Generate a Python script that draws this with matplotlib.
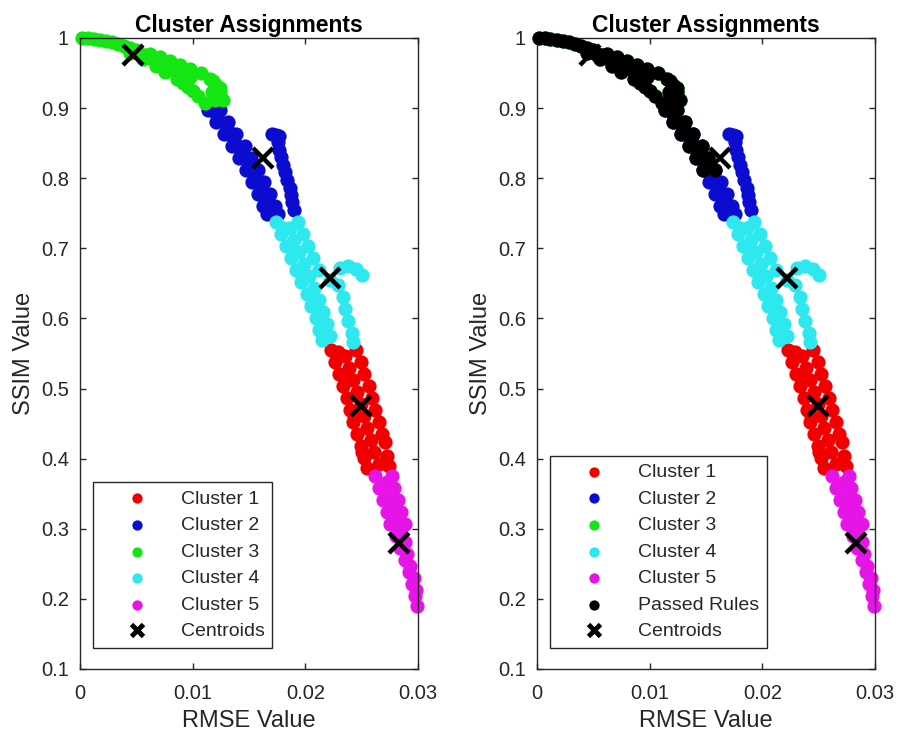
import numpy as np
import matplotlib
matplotlib.use('Agg')
from matplotlib import pyplot as plt
from matplotlib.ticker import FuncFormatter

# points, one list per cluster (RMSE, SSIM)
c1_x = [0.0223, 0.0226, 0.0230, 0.0233, 0.0237, 0.0240, 0.0242, 0.0246, 0.0249, 0.0252, 0.0255,
        0.0235, 0.0239, 0.0242, 0.0246, 0.0249, 0.0252, 0.0255, 0.0258, 0.0261, 0.0265,
        0.0245, 0.0249, 0.0252, 0.0256, 0.0259, 0.0262, 0.0265, 0.0268, 0.0271,
        0.0272, 0.0274, 0.0229, 0.0236, 0.0243, 0.0250]
c1_y = [0.555, 0.538, 0.521, 0.504, 0.486, 0.469, 0.452, 0.435, 0.418, 0.401, 0.387,
        0.546, 0.529, 0.512, 0.495, 0.478, 0.461, 0.444, 0.427, 0.409, 0.392,
        0.555, 0.538, 0.521, 0.504, 0.486, 0.469, 0.452, 0.435, 0.424,
        0.404, 0.389, 0.552, 0.512, 0.461, 0.409]

c2_x = [0.0114, 0.0121, 0.0128, 0.0135, 0.0141, 0.0147, 0.0153, 0.0158, 0.0162, 0.0166,
        0.0122, 0.0130, 0.0137, 0.0143, 0.0150, 0.0155, 0.0161, 0.0165, 0.0169,
        0.0124, 0.0131, 0.0138, 0.0146, 0.0152, 0.0158, 0.0163, 0.0169, 0.0173, 0.0176,
        0.0170, 0.0177, 0.0174, 0.0177, 0.0180, 0.0184, 0.0187, 0.0190,
        0.0176, 0.0178, 0.0182, 0.0186, 0.0188]
c2_y = [0.897, 0.880, 0.863, 0.846, 0.829, 0.812, 0.795, 0.777, 0.760, 0.749,
        0.889, 0.872, 0.854, 0.837, 0.820, 0.803, 0.786, 0.769, 0.755,
        0.897, 0.880, 0.863, 0.846, 0.829, 0.812, 0.795, 0.777, 0.760, 0.749,
        0.863, 0.860, 0.862, 0.840, 0.819, 0.797, 0.776, 0.755,
        0.852, 0.830, 0.809, 0.786, 0.766]

c3_x = [0.0002, 0.0007, 0.0012, 0.0018, 0.0023, 0.0028, 0.0034, 0.0039, 0.0044, 0.0050,
        0.0062, 0.0071, 0.0080, 0.0089, 0.0098, 0.0107, 0.0115, 0.0121, 0.0124, 0.0127,
        0.0044, 0.0056, 0.0067, 0.0075, 0.0086, 0.0096, 0.0105, 0.0111,
        0.0053, 0.0062, 0.0071, 0.0080, 0.0089, 0.0098, 0.0117, 0.0120,
        0.0058, 0.0066, 0.0084, 0.0093, 0.0091, 0.0100, 0.0118, 0.0124]
c3_y = [1.000, 1.000, 0.999, 0.997, 0.996, 0.994, 0.991, 0.989, 0.986, 0.983,
        0.977, 0.973, 0.967, 0.961, 0.956, 0.950, 0.942, 0.933, 0.923, 0.912,
        0.978, 0.970, 0.960, 0.952, 0.942, 0.930, 0.917, 0.907,
        0.977, 0.971, 0.964, 0.957, 0.950, 0.944, 0.923, 0.912,
        0.975, 0.968, 0.955, 0.948, 0.936, 0.925, 0.938, 0.928]

c4_x = [0.0174, 0.0178, 0.0183, 0.0187, 0.0192, 0.0196, 0.0201, 0.0205, 0.0209, 0.0212, 0.0215,
        0.0186, 0.0190, 0.0194, 0.0199, 0.0203, 0.0208, 0.0212, 0.0216, 0.0219, 0.0222,
        0.0193, 0.0198, 0.0202, 0.0207, 0.0229, 0.0233, 0.0235, 0.0238, 0.0241, 0.0242,
        0.0231, 0.0238, 0.0245, 0.0250, 0.0212, 0.0222,
        0.0180, 0.0189, 0.0197, 0.0206, 0.0214]
c4_y = [0.738, 0.720, 0.703, 0.686, 0.669, 0.652, 0.635, 0.618, 0.601, 0.583, 0.569,
        0.729, 0.712, 0.695, 0.678, 0.660, 0.643, 0.626, 0.609, 0.592, 0.575,
        0.738, 0.720, 0.703, 0.686, 0.648, 0.631, 0.613, 0.596, 0.579, 0.566,
        0.672, 0.675, 0.670, 0.662, 0.669, 0.655,
        0.729, 0.695, 0.660, 0.626, 0.592]

c5_x = [0.0262, 0.0265, 0.0269, 0.0272, 0.0275, 0.0280, 0.0284, 0.0288, 0.0292, 0.0295, 0.0297, 0.0299,
        0.0272, 0.0276, 0.0279, 0.0281, 0.0284, 0.0288, 0.0290, 0.0293, 0.0296, 0.0298,
        0.0277, 0.0279, 0.0282, 0.0285, 0.0288]
c5_y = [0.375, 0.358, 0.341, 0.324, 0.307, 0.290, 0.272, 0.255, 0.238, 0.221, 0.204, 0.190,
        0.367, 0.350, 0.332, 0.315, 0.298, 0.281, 0.264, 0.247, 0.230, 0.213,
        0.375, 0.358, 0.341, 0.324, 0.307]

cent_x = [0.0249, 0.0162, 0.0047, 0.0222, 0.0283]
cent_y = [0.475, 0.829, 0.976, 0.658, 0.279]

labels = ['Cluster 1', 'Cluster 2', 'Cluster 3', 'Cluster 4', 'Cluster 5']
couleurs = ['#f00000', '#0c0cd0', '#14e614', '#2ee8f0', '#e614e6']

# passed rules: whole cluster 3 plus the upper part of the main cluster 2 strand
seuil = 0.81
n_main = 29
b_x = np.array(c2_x[:n_main])
b_y = np.array(c2_y[:n_main])
passed_x = np.concatenate([c3_x, b_x[b_y >= seuil]])
passed_y = np.concatenate([c3_y, b_y[b_y >= seuil]])

gris = '#262626'
plt.rcParams['font.family'] = ['Liberation Sans', 'DejaVu Sans']


def panneau(ax, avec_passed):
    xs = [c1_x, c2_x, c3_x, c4_x, c5_x]
    ys = [c1_y, c2_y, c3_y, c4_y, c5_y]
    for x, y, col, lab in zip(xs, ys, couleurs, labels):
        ax.scatter(x, y, s=105, c=col, linewidths=0, label=lab, clip_on=False, zorder=2)
    if avec_passed:
        ax.scatter(passed_x, passed_y, s=105, c='k', linewidths=0, label='Passed Rules',
                   clip_on=False, zorder=3)
    ax.plot(cent_x, cent_y, 'kx', ms=15, mew=3.2, ls='none', label='Centroids',
            clip_on=False, zorder=4)

    ax.set_xlim(0, 0.03)
    ax.set_ylim(0.1, 1.0)
    ax.set_xticks([0, 0.01, 0.02, 0.03])
    ax.set_yticks(np.arange(1, 11) / 10)
    fmt = FuncFormatter(lambda v, p: '%g' % round(v, 4))
    ax.xaxis.set_major_formatter(fmt)
    ax.yaxis.set_major_formatter(fmt)
    ax.tick_params(direction='in', top=True, right=True, length=4, width=1,
                   color=gris, labelcolor=gris, labelsize=14.5)
    ax.tick_params(axis='x', pad=11)
    ax.tick_params(axis='y', pad=8)
    for sp in ax.spines.values():
        sp.set_color(gris)
        sp.set_linewidth(1.0)
    ax.set_xlabel('RMSE Value', fontsize=17, color=gris, labelpad=5)
    ax.set_ylabel('SSIM Value', fontsize=17, color=gris, labelpad=4)
    ax.set_title('Cluster Assignments', fontsize=16.5, fontweight='bold', pad=4.3)

    leg = ax.legend(loc='lower left', bbox_to_anchor=(0.039, 0.033), borderaxespad=0,
                    fontsize=14, fancybox=False, edgecolor=gris, framealpha=1,
                    borderpad=0.4, handlelength=3.7, handletextpad=0.4,
                    labelspacing=0.46, scatterpoints=1)
    leg.get_frame().set_linewidth(1.0)
    for t in leg.get_texts():
        t.set_color(gris)
    for h in leg.legend_handles[:-1]:
        h.set_sizes([55])
    croix = leg.legend_handles[-1]
    croix.set_markersize(9)
    croix.set_markeredgewidth(3.5)


fig = plt.figure(figsize=(9.04, 7.41), dpi=100)
ax1 = fig.add_axes([0.0885, 0.0972, 0.374, 0.8516])
ax2 = fig.add_axes([0.594, 0.0972, 0.374, 0.8516])
panneau(ax1, False)
panneau(ax2, True)
fig.savefig('out.png', dpi=100)
